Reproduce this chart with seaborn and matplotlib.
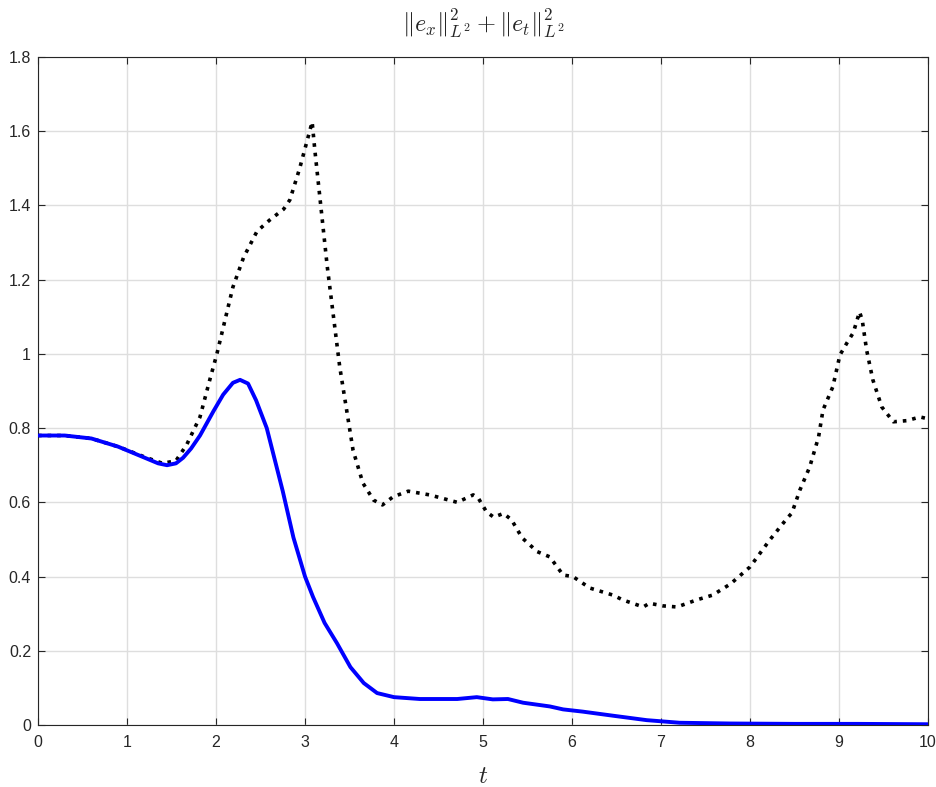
import numpy as np
import pandas as pd
import matplotlib
matplotlib.use("Agg")
import matplotlib.pyplot as plt
import seaborn as sns

# dotted black series
t_dot = [0.0, 0.3, 0.6, 0.9, 1.2, 1.4, 1.55, 1.67, 1.82, 1.93, 2.01, 2.19, 2.31, 2.46,
         2.6, 2.76, 2.83, 2.94, 3.03, 3.08, 3.11, 3.17, 3.25, 3.32, 3.39, 3.48, 3.54,
         3.65, 3.77, 3.87, 3.99, 4.16, 4.40, 4.71, 4.89, 4.95, 5.04, 5.12, 5.23, 5.32,
         5.44, 5.61, 5.75, 5.90, 6.01, 6.20, 6.46, 6.57, 6.80, 6.87, 7.02, 7.18, 7.40,
         7.58, 7.78, 8.0, 8.22, 8.42, 8.47, 8.56, 8.67, 8.77, 8.82, 8.93, 9.01, 9.09,
         9.16, 9.23, 9.26, 9.31, 9.38, 9.48, 9.61, 9.76, 9.91, 10.0]
e_dot = [0.78, 0.78, 0.772, 0.75, 0.722, 0.705, 0.712, 0.755, 0.83, 0.93, 1.0, 1.18, 1.26, 1.33,
         1.36, 1.39, 1.415, 1.50, 1.58, 1.625, 1.55, 1.415, 1.235, 1.10, 0.965, 0.83, 0.74,
         0.652, 0.606, 0.593, 0.615, 0.63, 0.62, 0.60, 0.62, 0.61, 0.574, 0.56, 0.57, 0.553,
         0.504, 0.467, 0.453, 0.404, 0.40, 0.369, 0.35, 0.337, 0.318, 0.328, 0.321, 0.318, 0.337,
         0.35, 0.38, 0.426, 0.498, 0.558, 0.571, 0.633, 0.695, 0.776, 0.849, 0.911, 0.997, 1.03,
         1.057, 1.113, 1.092, 1.01, 0.93, 0.857, 0.817, 0.82, 0.83, 0.825]

# solid blue series
t_sol = [0.0, 0.3, 0.6, 0.9, 1.2, 1.35, 1.45, 1.55, 1.63, 1.72, 1.82, 1.97, 2.08, 2.19,
         2.27, 2.36, 2.45, 2.57, 2.75, 2.87, 3.0, 3.09, 3.22, 3.36, 3.51, 3.66, 3.81, 4.0,
         4.29, 4.71, 4.93, 5.11, 5.28, 5.45, 5.75, 5.9, 6.12, 6.46, 6.84, 7.21, 7.78,
         8.5, 9.2, 10.0]
e_sol = [0.78, 0.78, 0.772, 0.75, 0.72, 0.705, 0.70, 0.705, 0.72, 0.745, 0.78, 0.845, 0.89, 0.922,
         0.93, 0.92, 0.875, 0.80, 0.63, 0.505, 0.40, 0.345, 0.275, 0.22, 0.156, 0.113, 0.086, 0.075,
         0.07, 0.07, 0.075, 0.069, 0.07, 0.06, 0.05, 0.042, 0.036, 0.025, 0.013, 0.006, 0.004,
         0.003, 0.003, 0.002]

x_ticks = list(range(0, 11))
y_ticks = [0, 0.2, 0.4, 0.6, 0.8, 1.0, 1.2, 1.4, 1.6, 1.8]
y_labels = ["0", "0.2", "0.4", "0.6", "0.8", "1", "1.2", "1.4", "1.6", "1.8"]

sns.set_style("white")
plt.rcParams["font.family"] = ["Liberation Sans", "DejaVu Sans"]
plt.rcParams["mathtext.fontset"] = "cm"

fig = plt.figure(figsize=(9.36, 7.87), dpi=100)
ax = fig.add_axes([0.0406, 0.0788, 0.9509, 0.8488])

df_dot = pd.DataFrame({"t": t_dot, "e": e_dot})
df_sol = pd.DataFrame({"t": t_sol, "e": e_sol})
sns.lineplot(data=df_dot, x="t", y="e", ax=ax, color="black", linestyle=":",
             linewidth=2.6, estimator=None, sort=False, zorder=3)
sns.lineplot(data=df_sol, x="t", y="e", ax=ax, color="#0000ff", linewidth=2.8,
             estimator=None, sort=False, zorder=4)

ax.set_xlim(0, 10)
ax.set_ylim(0, 1.8)
ax.set_xticks(x_ticks)
ax.set_yticks(y_ticks)
ax.set_yticklabels(y_labels)
ax.grid(True, color="#dedede", linewidth=1.0)
ax.set_axisbelow(True)
for s in ax.spines.values():
    s.set_color("#262626")
    s.set_linewidth(0.8)
ax.tick_params(direction="in", length=5, width=0.8, color="#262626",
               labelsize=11.5, labelcolor="#262626", top=True, right=True,
               left=True, bottom=True)
ax.tick_params(axis="x", pad=7)
ax.tick_params(axis="y", pad=5)

ax.set_xlabel("$t$", fontsize=18, labelpad=10)
ax.set_ylabel("")
ax.set_title(r"$\|e_x\|_{L^2}^2+\|e_t\|_{L^2}^2$", fontsize=17.5, pad=18)

fig.savefig("out.png", dpi=100)
